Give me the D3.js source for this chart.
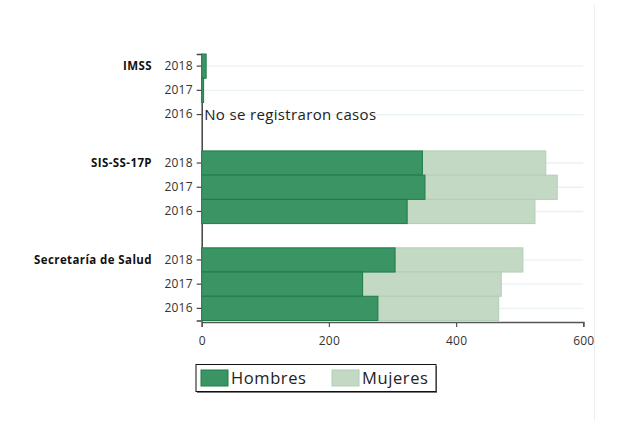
<!DOCTYPE html>
<html>
<head>
<meta charset="utf-8">
<script src="https://cdn.jsdelivr.net/npm/d3@7"></script>
<style>
  html, body { margin: 0; padding: 0; background: #fff; }
  svg { display: block; font-family: "Open Sans", "Noto Sans", sans-serif; }
</style>
</head>
<body>
<svg id="chart" width="617" height="425"></svg>
<script>
const groups = ["IMSS", "SIS-SS-17P", "Secretaría de Salud"];
const years = ["2018", "2017", "2016"];
const hombres = {
  "IMSS": [7, 3, 0],
  "SIS-SS-17P": [347, 351, 323],
  "Secretaría de Salud": [304, 253, 277]
};
const mujeres = {
  "IMSS": [0, 0, 0],
  "SIS-SS-17P": [194, 208, 201],
  "Secretaría de Salud": [201, 218, 190]
};
const xTicks = [0, 200, 400, 600];
const seriesNames = ["Hombres", "Mujeres"];
const noDataText = "No se registraron casos";

const svg = d3.select("#chart");
const colors = { Hombres: "#3b9464", Mujeres: "#c3d9c4" };
const strokes = { Hombres: "#1e7c48", Mujeres: "#b2ceb5" };

const rows = [];
groups.forEach((g, gi) => {
  years.forEach((y, yi) => rows.push({ key: g + "|" + y, group: g, year: y, yi,
    h: hombres[g][yi], m: mujeres[g][yi] }));
  if (gi < groups.length - 1) rows.push({ key: "gap" + gi, gap: true });
});

const x = d3.scaleLinear().domain([0, 600]).range([201.7, 583.3]);
const y = d3.scaleBand().domain(rows.map(r => r.key)).range([54, 320.5]).paddingInner(0).paddingOuter(0);

const dataRows = rows.filter(r => !r.gap);

svg.append("line").attr("x1", 594.5).attr("x2", 594.5).attr("y1", 4).attr("y2", 421)
  .attr("stroke", "#eaf0f1").attr("stroke-width", 1);

svg.append("g").selectAll("line").data(dataRows).join("line")
  .attr("x1", x(0)).attr("x2", x(600))
  .attr("y1", d => y(d.key) + y.bandwidth() / 2)
  .attr("y2", d => y(d.key) + y.bandwidth() / 2)
  .attr("stroke", "#eaf1f1").attr("stroke-width", 1.3);

const yAxis = d3.axisLeft(y).tickSize(5).tickPadding(4)
  .tickValues(dataRows.map(d => d.key))
  .tickFormat(k => k.split("|")[1]);
const yg = svg.append("g").attr("transform", `translate(${x(0)},0)`).call(yAxis);
yg.select(".domain").attr("stroke", "#444").attr("stroke-width", 1.5);
yg.selectAll(".tick line").attr("stroke", "#444").attr("stroke-width", 1.2);
yg.selectAll(".tick text").attr("font-size", 12).attr("fill", "#333")
  .attr("font-family", "'Open Sans', sans-serif").attr("letter-spacing", 0.2);

const barG = svg.append("g");
barG.selectAll("rect.m").data(dataRows.filter(d => d.m > 0)).join("rect")
  .attr("class", "m")
  .attr("x", d => x(d.h)).attr("width", d => x(d.h + d.m) - x(d.h))
  .attr("y", d => y(d.key)).attr("height", y.bandwidth())
  .attr("fill", colors.Mujeres).attr("stroke", strokes.Mujeres).attr("stroke-width", 1);
barG.selectAll("rect.h").data(dataRows.filter(d => d.h > 0)).join("rect")
  .attr("class", "h")
  .attr("x", x(0)).attr("width", d => x(d.h) - x(0))
  .attr("y", d => y(d.key)).attr("height", y.bandwidth())
  .attr("fill", colors.Hombres).attr("stroke", strokes.Hombres).attr("stroke-width", 1);

dataRows.filter(d => d.h === 0 && d.m === 0).forEach(d => {
  svg.append("text").attr("x", x(0) + 2.5).attr("y", y(d.key) + y.bandwidth() / 2)
    .attr("dy", "0.36em").attr("font-size", 15).attr("letter-spacing", 0.35)
    .attr("fill", "#222").text(noDataText);
});

svg.append("g").selectAll("text").data(groups).join("text")
  .attr("x", 152).attr("text-anchor", "end")
  .attr("y", g => y(g + "|" + years[0]) + y.bandwidth() / 2).attr("dy", "0.36em")
  .attr("font-size", 11.5).attr("font-weight", "bold").attr("letter-spacing", 0.4)
  .attr("fill", "#111").text(g => g);

const xAxis = d3.axisBottom(x).tickValues(xTicks).tickSize(5).tickPadding(9);
const xg = svg.append("g").attr("transform", `translate(0,322)`).call(xAxis);
xg.select(".domain").attr("stroke", "#555").attr("stroke-width", 1.5);
xg.selectAll(".tick line").attr("stroke", "#555").attr("stroke-width", 1.2);
xg.selectAll(".tick text").attr("font-size", 12).attr("fill", "#333")
  .attr("font-family", "'Open Sans', sans-serif").attr("letter-spacing", 0.2);

const lg = svg.append("g");
lg.append("rect").attr("x", 197).attr("y", 366).attr("width", 240).attr("height", 27)
  .attr("fill", "#777");
lg.append("rect").attr("x", 196).attr("y", 364.5).attr("width", 240).attr("height", 27)
  .attr("fill", "#fff").attr("stroke", "#111").attr("stroke-width", 1);
const legendX = [201, 332];
seriesNames.forEach((s, i) => {
  lg.append("rect").attr("x", legendX[i]).attr("y", 370).attr("width", 27).attr("height", 16)
    .attr("fill", colors[s]).attr("stroke", strokes[s]).attr("stroke-width", 1);
  lg.append("text").attr("x", legendX[i] + 30).attr("y", 378).attr("dy", "0.36em")
    .attr("font-size", 16.5).attr("letter-spacing", 0.6).attr("fill", "#222").text(s);
});
</script>
</body>
</html>
